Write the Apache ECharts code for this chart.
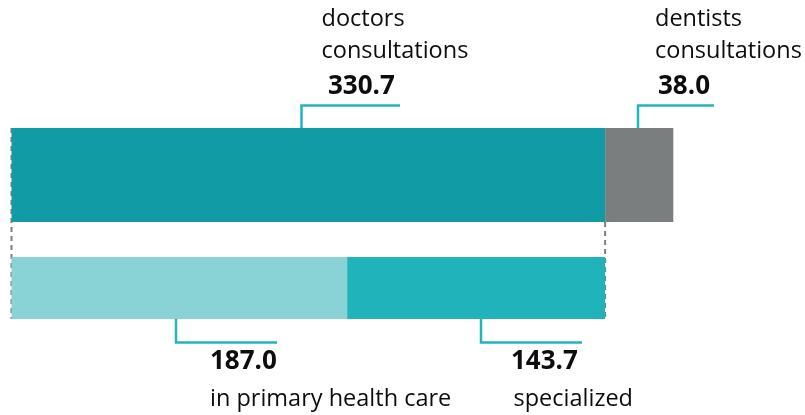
<!DOCTYPE html>
<html>
<head>
<meta charset="utf-8">
<script src="https://cdn.jsdelivr.net/npm/echarts@6/dist/echarts.min.js"></script>
<style>
  html, body { margin: 0; padding: 0; background: #fff; }
  #chart { width: 805px; height: 415px; }
</style>
</head>
<body>
<div id="chart"></div>
<script>
// values (consultations, millions)
const topNames = ["doctors\nconsultations", "dentists\nconsultations"];
const topValues = [330.7, 38.0];
const bottomNames = ["in primary health care", "specialized"];
const bottomValues = [187.0, 143.7];

const topColors = ["#109ba5", "#7a7e7e"];
const bottomColors = ["#89d3d6", "#20b3b9"];
const lineColor = "#22b6bc";
const font = "Open Sans";

let chart = echarts.init(document.getElementById("chart"));

let option = {
  animation: false,
  grid: [
    { left: 11.5, top: 128, width: 718, height: 94 },
    { left: 11.5, top: 257, width: 718, height: 62 }
  ],
  xAxis: [
    { gridIndex: 0, type: "value", min: 0, max: 400, show: false },
    { gridIndex: 1, type: "value", min: 0, max: 400, show: false }
  ],
  yAxis: [
    { gridIndex: 0, type: "category", data: ["all"], show: false },
    { gridIndex: 1, type: "category", data: ["all"], show: false }
  ],
  series: [
    { type: "bar", xAxisIndex: 0, yAxisIndex: 0, stack: "top", barWidth: "100%", z: 3,
      data: [topValues[0]], itemStyle: { color: topColors[0] } },
    { type: "bar", xAxisIndex: 0, yAxisIndex: 0, stack: "top", barWidth: "100%", z: 3,
      data: [topValues[1]], itemStyle: { color: topColors[1] } },
    { type: "bar", xAxisIndex: 1, yAxisIndex: 1, stack: "bottom", barWidth: "100%", z: 3,
      data: [bottomValues[0]], itemStyle: { color: bottomColors[0] } },
    { type: "bar", xAxisIndex: 1, yAxisIndex: 1, stack: "bottom", barWidth: "100%", z: 3,
      data: [bottomValues[1]], itemStyle: { color: bottomColors[1] } }
  ]
};
chart.setOption(option);

// pixel positions from the axes
let x0 = chart.convertToPixel({ xAxisIndex: 0 }, 0);
let xTotal = chart.convertToPixel({ xAxisIndex: 0 }, topValues[0]);

function dashed(x, y1, y2) {
  return { type: "line", z: 1, shape: { x1: x, y1: y1, x2: x, y2: y2 },
    style: { stroke: "#7f7f7f", lineWidth: 2, lineDash: [5, 4] } };
}
function callout(x, y1, y2, xEnd) {
  return { type: "polyline", z: 2, shape: { points: [[x, y1], [x, y2], [xEnd, y2]] },
    style: { stroke: lineColor, lineWidth: 2.5, fill: null } };
}
function label(x, y, text, bold) {
  return { type: "text", z: 5, x: x, y: y,
    style: { text: text, fill: "#0d0d0d", font: (bold ? "bold 26px " : "23.5px ") + font,
      textVerticalAlign: "middle", lineHeight: 32 } };
}

let graphics = [
  dashed(x0, 128, 319),
  dashed(xTotal, 222, 319),
  callout(301.5, 128, 105.5, 400),
  callout(638, 128, 105.5, 714),
  callout(176, 319, 342.5, 277),
  callout(481, 319, 342.5, 582),
  label(321.5, 35, topNames[0]),
  label(655, 35, topNames[1]),
  label(328, 87, topValues[0].toFixed(1), true),
  label(658, 87, topValues[1].toFixed(1), true),
  label(210, 362, bottomValues[0].toFixed(1), true),
  label(511, 362, bottomValues[1].toFixed(1), true),
  label(210, 399, bottomNames[0]),
  label(513.5, 399, bottomNames[1])
];
chart.setOption({ graphic: graphics });
</script>
</body>
</html>
